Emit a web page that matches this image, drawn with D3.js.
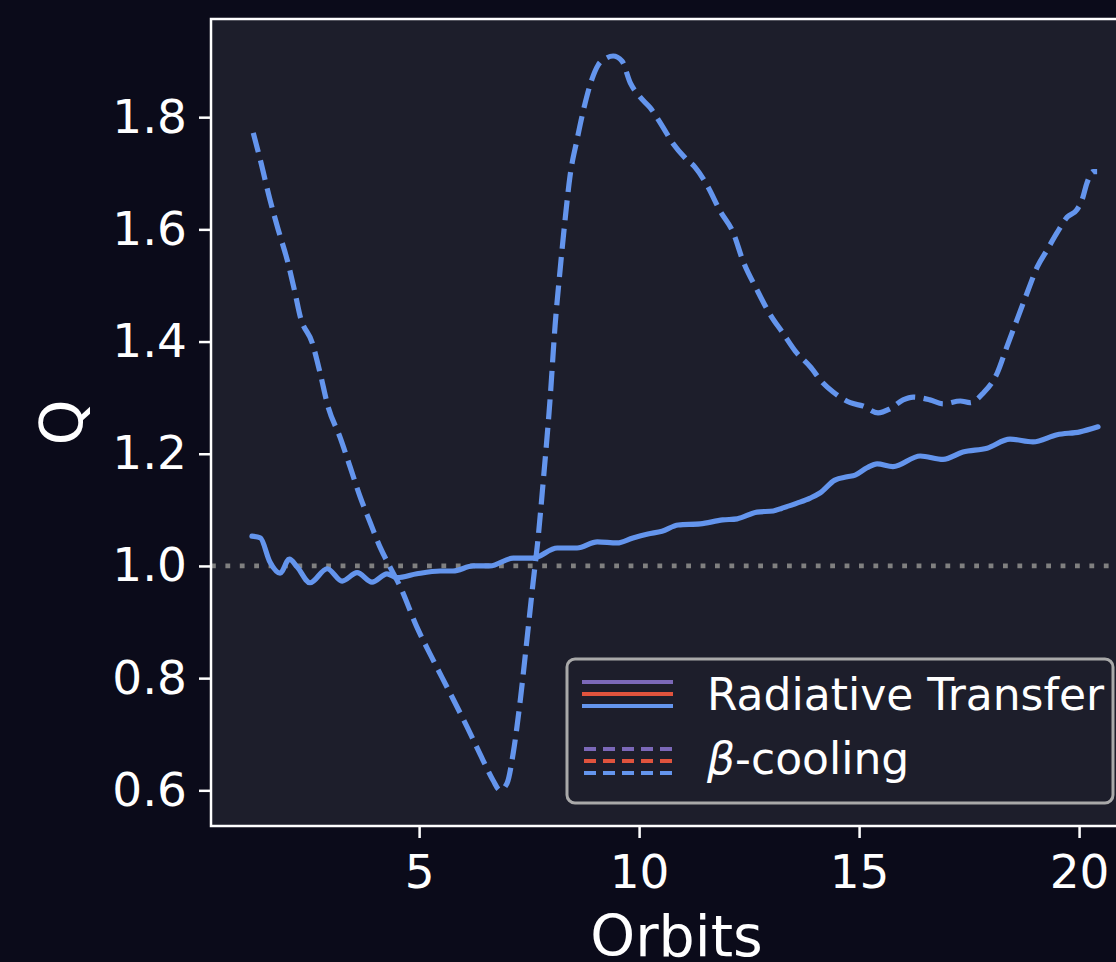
<!DOCTYPE html>
<html>
<head>
<meta charset="utf-8">
<script src="https://cdn.jsdelivr.net/npm/d3@7"></script>
<style>
  html, body { margin: 0; padding: 0; background: #0b0b1a; }
  svg { display: block; }
  text { font-family: "DejaVu Sans", sans-serif; }
</style>
</head>
<body>
<svg id="chart" width="1116" height="962"></svg>
<script>
// Radiative transfer run (solid)
const rtOrbits = [1.2, 1.39, 1.61, 1.84, 2.05, 2.23, 2.52, 2.91, 3.25, 3.59, 3.93, 4.27, 4.5, 4.95, 5.48, 5.77, 6.23, 6.61, 7.14, 7.59,
  8.14, 8.59, 9.05, 9.5, 9.86, 10.2, 10.52, 10.89, 11.39, 11.9, 12.23, 12.68, 13.05, 13.25, 13.59, 13.89, 14.11, 14.45, 14.73, 14.91,
  15.18, 15.41, 15.77, 16.39, 16.91, 17.36, 17.91, 18.43, 18.95, 19.5, 20.02, 20.43];
const rtQ = [1.053, 1.05, 1.007, 0.987, 1.012, 0.998, 0.97, 0.995, 0.973, 0.988, 0.971, 0.986, 0.979, 0.986, 0.991, 0.991, 1.0, 1.0, 1.014, 1.014,
  1.032, 1.032, 1.043, 1.041, 1.05, 1.057, 1.062, 1.073, 1.075, 1.082, 1.084, 1.096, 1.098, 1.103, 1.112, 1.121, 1.13, 1.153, 1.159, 1.162,
  1.175, 1.182, 1.177, 1.196, 1.19, 1.203, 1.21, 1.226, 1.221, 1.234, 1.239, 1.248];

// beta-cooling run (dashed)
const betaOrbits = [1.23, 1.39, 1.61, 1.8, 2.0, 2.18, 2.3, 2.57, 2.75, 2.93, 3.2, 3.43, 3.66, 3.89, 4.11, 4.34, 4.57, 4.95, 5.32, 5.7,
  6.09, 6.45, 6.68, 6.84, 7.0, 7.14, 7.3, 7.45, 7.59, 7.7, 7.82, 7.98, 8.09, 8.2, 8.32, 8.43, 8.59, 8.73, 8.93, 9.07,
  9.25, 9.41, 9.61, 9.8, 10.02, 10.25, 10.52, 10.77, 11.05, 11.27, 11.55, 11.84, 12.14, 12.36, 12.68, 12.98, 13.27, 13.55, 13.89, 14.18,
  14.41, 14.8, 15.09, 15.43, 15.7, 16.0, 16.23, 16.61, 16.91, 17.3, 17.52, 17.82, 18.14, 18.36, 18.59, 18.82, 19.05, 19.27, 19.5, 19.73,
  19.95, 20.07, 20.18, 20.32, 20.41];
const betaQ = [1.772, 1.724, 1.653, 1.599, 1.546, 1.487, 1.444, 1.398, 1.344, 1.284, 1.23, 1.177, 1.123, 1.077, 1.034, 0.998, 0.963, 0.891, 0.832, 0.774,
  0.713, 0.654, 0.618, 0.600, 0.613, 0.667, 0.761, 0.868, 0.97, 1.046, 1.15, 1.301, 1.428, 1.524, 1.619, 1.695, 1.76, 1.811, 1.868, 1.893,
  1.905, 1.909, 1.900, 1.861, 1.836, 1.817, 1.785, 1.753, 1.727, 1.711, 1.678, 1.633, 1.594, 1.544, 1.492, 1.448, 1.415, 1.383, 1.355, 1.326,
  1.31, 1.291, 1.285, 1.273, 1.28, 1.296, 1.301, 1.296, 1.289, 1.294, 1.291, 1.308, 1.344, 1.391, 1.439, 1.487, 1.533, 1.563, 1.594, 1.622,
  1.635, 1.653, 1.683, 1.703, 1.703];

const xTicks = [5, 10, 15, 20];
const yTicks = [0.6, 0.8, 1.0, 1.2, 1.4, 1.6, 1.8];
const criticalQ = 1.0;

const legendLabels = ['Radiative Transfer', 'β-cooling'];
const legendColors = ['#7b68b8', '#e0533d', '#6495ed'];

const lineColor = '#6495ed';
const figBg = '#0b0b1a';
const axBg = '#1d1e2b';

const svg = d3.select('#chart');

// axes box (right edge falls outside the window)
const axL = 211, axT = 19, axR = 1142, axB = 826;

const x = d3.scaleLinear().domain([0.27, 21.43]).range([axL, axR]);
const y = d3.scaleLinear().domain([0.5364, 1.975]).range([axB, axT]);

svg.append('rect').attr('width', 1116).attr('height', 962).attr('fill', figBg);
svg.append('rect')
  .attr('x', axL).attr('y', axT)
  .attr('width', axR - axL).attr('height', axB - axT)
  .attr('fill', axBg);

svg.append('clipPath').attr('id', 'plot-clip')
  .append('rect')
  .attr('x', axL).attr('y', axT)
  .attr('width', axR - axL).attr('height', axB - axT);

const plot = svg.append('g').attr('clip-path', 'url(#plot-clip)');

// Q = 1 reference
plot.append('line')
  .attr('x1', axL).attr('x2', axR)
  .attr('y1', y(criticalQ)).attr('y2', y(criticalQ))
  .attr('stroke', '#808080')
  .attr('stroke-width', 4.8)
  .attr('stroke-dasharray', '4.8,9.6');

const line = d3.line()
  .x(d => x(d[0]))
  .y(d => y(d[1]))
  .curve(d3.curveMonotoneX);

plot.append('path')
  .datum(betaOrbits.map((o, i) => [o, betaQ[i]]))
  .attr('d', line)
  .attr('fill', 'none')
  .attr('stroke', lineColor)
  .attr('stroke-width', 5.2)
  .attr('stroke-dasharray', '20,8.5');

plot.append('path')
  .datum(rtOrbits.map((o, i) => [o, rtQ[i]]))
  .attr('d', line)
  .attr('fill', 'none')
  .attr('stroke', lineColor)
  .attr('stroke-width', 5.2)
  .attr('stroke-linejoin', 'round')
  .attr('stroke-linecap', 'round');

// Axes
const xAxis = svg.append('g')
  .attr('transform', `translate(0,${axB})`)
  .call(d3.axisBottom(x).tickValues(xTicks).tickFormat(d3.format('d')).tickSize(12).tickPadding(17).tickSizeOuter(0));

const yAxis = svg.append('g')
  .attr('transform', `translate(${axL},0)`)
  .call(d3.axisLeft(y).tickValues(yTicks).tickFormat(d3.format('.1f')).tickSize(12).tickPadding(12).tickSizeOuter(0));

[xAxis, yAxis].forEach(g => {
  g.select('.domain').remove();
  g.selectAll('.tick line').attr('stroke', '#ffffff').attr('stroke-width', 2.5);
  g.selectAll('.tick text')
    .attr('fill', '#ffffff')
    .style('font-size', '47px')
    .style('font-family', '"DejaVu Sans", sans-serif');
});

// Spines
svg.append('rect')
  .attr('x', axL).attr('y', axT)
  .attr('width', axR - axL).attr('height', axB - axT)
  .attr('fill', 'none')
  .attr('stroke', '#ffffff')
  .attr('stroke-width', 2.5);

// Axis labels
svg.append('text')
  .text('Orbits')
  .attr('x', (axL + axR) / 2)
  .attr('y', 956)
  .attr('text-anchor', 'middle')
  .attr('fill', '#ffffff')
  .style('font-size', '57px');

svg.append('text')
  .text('Q')
  .attr('transform', `translate(82,${(axT + axB) / 2}) rotate(-90)`)
  .attr('text-anchor', 'middle')
  .attr('fill', '#ffffff')
  .style('font-size', '58px');

// Legend
const legend = svg.append('g');
legend.append('rect')
  .attr('x', 567).attr('y', 659)
  .attr('width', 546).attr('height', 144)
  .attr('rx', 8)
  .attr('fill', axBg)
  .attr('fill-opacity', 0.85)
  .attr('stroke', '#a9a9a9')
  .attr('stroke-width', 3);

const handleRows = [[682, 694, 706], [749, 761, 773]];
handleRows.forEach((row, r) => {
  row.forEach((yy, i) => {
    legend.append('line')
      .attr('x1', r === 0 ? 582 : 584).attr('x2', 673)
      .attr('y1', yy).attr('y2', yy)
      .attr('stroke', legendColors[i])
      .attr('stroke-width', 4)
      .attr('stroke-dasharray', r === 0 ? null : '12,7');
  });
});

legend.append('text')
  .text(legendLabels[0])
  .attr('x', 707).attr('y', 710)
  .attr('fill', '#ffffff')
  .style('font-size', '44px');

const beta = legend.append('text')
  .attr('x', 707).attr('y', 774)
  .attr('fill', '#ffffff')
  .style('font-size', '44px');
beta.append('tspan').text(legendLabels[1].slice(0, 1)).style('font-style', 'italic');
beta.append('tspan').text(legendLabels[1].slice(1));
</script>
</body>
</html>
